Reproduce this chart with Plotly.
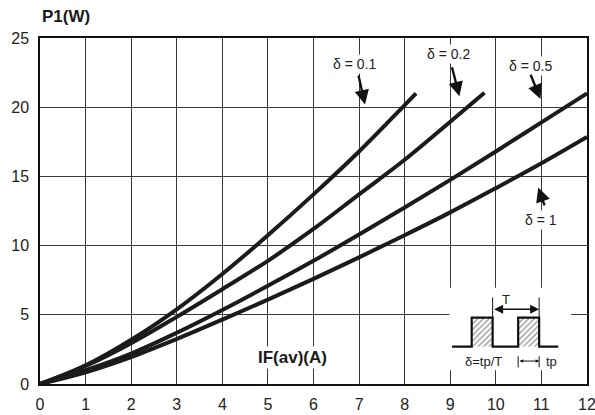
import plotly.graph_objects as go

# ---- data ----
i_01 = [0, 1, 2, 3, 4, 5, 6, 7, 8, 8.25]
p_01 = [0, 1.35, 3.2, 5.4, 7.95, 10.75, 13.7, 16.8, 20.15, 21.0]

i_02 = [0, 1, 2, 3, 4, 5, 6, 7, 8, 9, 9.75]
p_02 = [0, 1.3, 2.95, 4.85, 6.85, 8.9, 11.2, 13.7, 16.2, 18.95, 21.05]

i_05 = [0, 1, 2, 3, 4, 5, 6, 7, 8, 9, 10, 11, 12]
p_05 = [0, 1.0, 2.2, 3.7, 5.35, 7.1, 8.9, 10.8, 12.75, 14.75, 16.8, 18.9, 21.0]

i_1 = [0, 1, 2, 3, 4, 5, 6, 7, 8, 9, 10, 11, 12]
p_1 = [0, 0.85, 1.95, 3.25, 4.65, 6.1, 7.6, 9.15, 10.75, 12.4, 14.15, 15.95, 17.85]

x_ticks = list(range(0, 13))
y_ticks = [0, 5, 10, 15, 20, 25]

curve_labels = ["δ = 0.1", "δ = 0.2", "δ = 0.5", "δ = 1"]

# ---- styling / layout constants ----
CURVE_COLOR = "#1c1a1a"
GRID_COLOR = "#3a3a3a"
FONT = "Liberation Sans, Arial, sans-serif"

fig = go.Figure()

# white background behind the pulse inset (hides grid lines)
fig.add_trace(go.Scatter(
    x=[8.98, 11.65, 11.65, 8.98, 8.98], y=[1.0, 1.0, 6.95, 6.95, 1.0],
    mode="lines", fill="toself", fillcolor="white", line=dict(width=0),
    hoverinfo="skip", showlegend=False))

for xs, ys in [(i_01, p_01), (i_02, p_02), (i_05, p_05), (i_1, p_1)]:
    fig.add_trace(go.Scatter(
        x=xs, y=ys, mode="lines", line=dict(color=CURVE_COLOR, width=4, shape="spline", smoothing=1),
        showlegend=False, hoverinfo="skip"))

# ---- pulse inset ----
base_y, top_y = 2.70, 4.79
p1 = (9.47, 9.93)
p2 = (10.49, 10.95)
for (a, b) in (p1, p2):
    fig.add_trace(go.Scatter(
        x=[a, b, b, a, a], y=[base_y, base_y, top_y, top_y, base_y],
        mode="lines", fill="toself", fillcolor="white",
        fillpattern=dict(shape="/", size=4, solidity=0.35, fgcolor="#333333", bgcolor="white"),
        line=dict(width=0), hoverinfo="skip", showlegend=False))
fig.add_trace(go.Scatter(
    x=[9.04, p1[0], p1[0], p1[1], p1[1], p2[0], p2[0], p2[1], p2[1], 11.37],
    y=[base_y, base_y, top_y, top_y, base_y, base_y, top_y, top_y, base_y, base_y],
    mode="lines", line=dict(color="#111111", width=2.2), hoverinfo="skip", showlegend=False))

shapes = []
# T dimension lines
shapes.append(dict(type="line", xref="x", yref="y", x0=p1[1], x1=p1[1], y0=top_y, y1=6.25,
                   line=dict(color="#111", width=1)))
shapes.append(dict(type="line", xref="x", yref="y", x0=p2[1], x1=p2[1], y0=top_y, y1=6.25,
                   line=dict(color="#111", width=1)))
# tp dimension ticks
for xv in p2:
    shapes.append(dict(type="line", xref="x", yref="y", x0=xv, x1=xv, y0=1.2, y1=2.0,
                       line=dict(color="#111", width=1)))

annotations = []
# T arrow (both ends)
annotations.append(dict(x=p2[1], y=5.40, ax=p1[1], ay=5.40, xref="x", yref="y", axref="x", ayref="y",
                        showarrow=True, arrowhead=2, arrowsize=1.2, arrowwidth=1.5, arrowcolor="#111",
                        arrowside="end+start", text=""))
annotations.append(dict(x=10.22, y=6.1, xref="x", yref="y", text="T", showarrow=False,
                        font=dict(family=FONT, size=13, color="#222")))
# tp arrow
annotations.append(dict(x=p2[1], y=1.66, ax=p2[0], ay=1.66, xref="x", yref="y", axref="x", ayref="y",
                        showarrow=True, arrowhead=2, arrowsize=0.7, arrowwidth=1, arrowcolor="#111",
                        arrowside="end+start", text=""))
annotations.append(dict(x=11.06, y=1.66, xref="x", yref="y", text="tp", showarrow=False,
                        xanchor="left", font=dict(family=FONT, size=13, color="#222")))
annotations.append(dict(x=9.74, y=1.62, xref="x", yref="y", text="δ=tp/T", showarrow=False,
                        font=dict(family=FONT, size=13, color="#222")))

# curve labels with arrows
label_pos = [(6.89, 23.1), (8.97, 23.85), (10.77, 23.0), (11.0, 11.86)]
arrow_tail = [(6.98, 22.4), (9.03, 23.0), (10.75, 22.45), (11.08, 12.8)]
arrow_head = [(7.13, 20.2), (9.2, 20.8), (10.98, 20.6), (10.93, 14.2)]
for txt, (lx, ly), (tx, ty), (hx, hy) in zip(curve_labels, label_pos, arrow_tail, arrow_head):
    annotations.append(dict(x=lx, y=ly, xref="x", yref="y", text=txt, showarrow=False,
                            bgcolor="white", borderpad=1, font=dict(family=FONT, size=14, color="#222")))
    annotations.append(dict(x=hx, y=hy, ax=tx, ay=ty, xref="x", yref="y", axref="x", ayref="y",
                            showarrow=True, arrowhead=2, arrowsize=1.2, arrowwidth=2.4,
                            arrowcolor="#111", text=""))

# axis titles
annotations.append(dict(x=5.53, y=1.95, xref="x", yref="y", text="<b>IF(av)(A)</b>", showarrow=False,
                        bgcolor="white", font=dict(family=FONT, size=17, color="#1a1a1a")))
annotations.append(dict(x=0, y=1.062, xref="paper", yref="paper", xanchor="left", yanchor="middle",
                        text="<b>P1(W)</b>", showarrow=False,
                        font=dict(family=FONT, size=17, color="#1a1a1a")))

fig.update_layout(
    width=595, height=415,
    margin=dict(l=40, r=8, t=38, b=31),
    paper_bgcolor="white", plot_bgcolor="white",
    shapes=shapes, annotations=annotations,
    font=dict(family=FONT, color="#222"),
)
fig.update_xaxes(range=[0, 12], tickvals=x_ticks, ticktext=[str(v) for v in x_ticks],
                 automargin=False, ticklabeloverflow="allow",
                 showgrid=True, gridcolor=GRID_COLOR, gridwidth=1, zeroline=False,
                 showline=True, linecolor="#111", linewidth=1.5, mirror=True,
                 ticks="outside", ticklen=5, tickcolor="rgba(0,0,0,0)",
                 tickfont=dict(family=FONT, size=16, color="#222"))
fig.update_yaxes(range=[0, 25], tickvals=y_ticks, ticktext=[str(v) for v in y_ticks],
                 automargin=False, ticklabeloverflow="allow",
                 showgrid=True, gridcolor=GRID_COLOR, gridwidth=1, zeroline=False,
                 showline=True, linecolor="#111", linewidth=1.5, mirror=True,
                 ticks="outside", ticklen=6, tickcolor="rgba(0,0,0,0)",
                 tickfont=dict(family=FONT, size=16, color="#222"))

fig.write_html("out.html")
